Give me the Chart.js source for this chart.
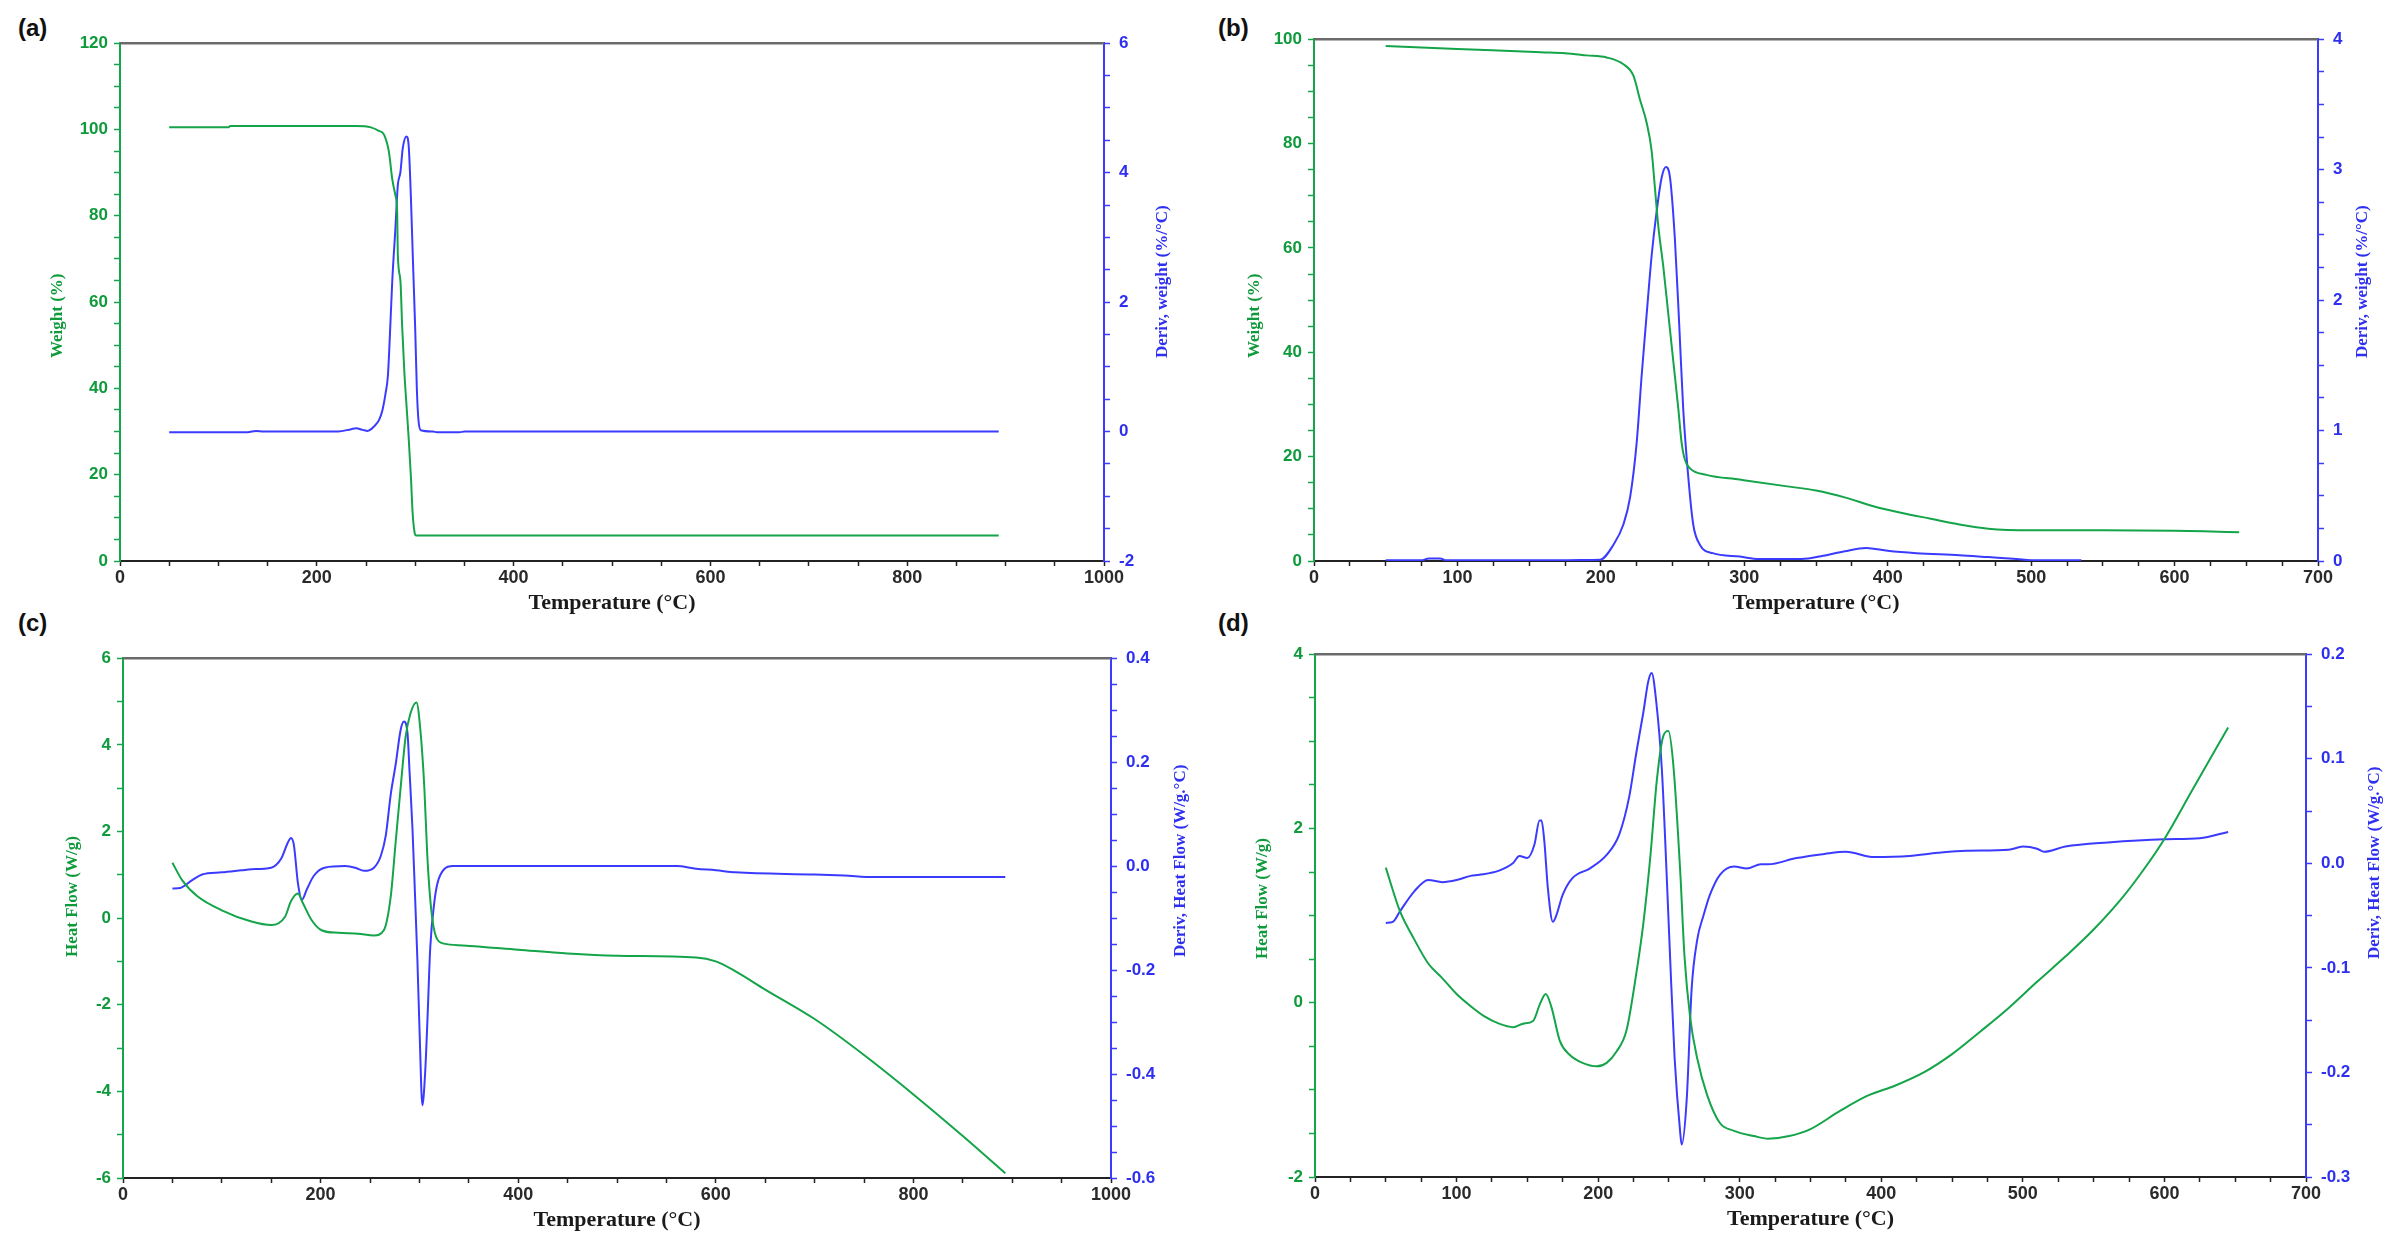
<!DOCTYPE html>
<html>
<head>
<meta charset="utf-8">
<script src="https://cdn.jsdelivr.net/npm/chart.js@4.4.0/dist/chart.umd.min.js"></script>
<style>
  body { margin: 0; background: #fff; width: 2403px; height: 1248px; position: relative; overflow: hidden; }
  canvas { position: absolute; }
  .tag { position: absolute; font: bold 24px "Liberation Sans", Arial, sans-serif; color: #111; }
</style>
</head>
<body>
<div class="tag" style="left:18px;top:14px">(a)</div>
<div class="tag" style="left:1218px;top:14px">(b)</div>
<div class="tag" style="left:18px;top:609px">(c)</div>
<div class="tag" style="left:1218px;top:609px">(d)</div>
<canvas id="chartA"></canvas>
<canvas id="chartB"></canvas>
<canvas id="chartC"></canvas>
<canvas id="chartD"></canvas>
<script>
// (a) TGA : weight and derivative
const tempA_w = [50, 110, 112, 240, 255, 263, 268.3, 273.3, 276.7, 280, 281.7, 282.3, 285, 286.7, 289, 291, 293.3, 295.7, 297.3, 299.3, 301, 893];
const weightA = [100.5, 100.5, 100.8, 100.8, 100.5, 99.7, 98.8, 94.8, 88.5, 84.6, 80.7, 71.2, 64.9, 54.7, 43.7, 36.6, 28.7, 19.3, 11.4, 6.7, 5.9, 5.9];
const tempA_d = [50, 130, 138, 146, 221.7, 235, 240, 246.7, 251.7, 258.3, 263.3, 266.7, 270, 272.3, 274.3, 276.7, 280, 282.3, 285, 287.3, 291, 293.3, 295.7, 297.7, 300, 301.7, 303.3, 305.7, 318, 322, 345, 350, 893];
const derivA = [-0.01, -0.01, 0.01, 0, 0, 0.037, 0.05, 0.026, 0.01, 0.08, 0.18, 0.33, 0.6, 0.87, 1.49, 2.33, 3.17, 3.8, 4.01, 4.37, 4.56, 4.43, 3.59, 2.64, 1.59, 0.65, 0.18, 0.02, 0, -0.01, -0.01, 0, 0];

// (b) TGA
const tempB_w = [50, 100, 150, 158, 175, 190, 204, 215.7, 222.7, 227.3, 232, 235.4, 237.7, 240, 243.5, 247, 250.5, 254, 256.3, 258.6, 262, 273.6, 296.8, 330, 350, 370, 390, 410, 430, 450, 470, 500, 550, 600, 620, 645];
const weightB = [98.7, 98.1, 97.6, 97.5, 97.3, 96.9, 96.5, 95.2, 93.0, 88.4, 83.9, 78.6, 71.5, 64.3, 56.5, 47.4, 38.3, 29.2, 22.7, 19.4, 17.8, 16.5, 15.6, 14.3, 13.5, 12.2, 10.5, 9.2, 8.1, 7.0, 6.2, 5.9, 5.9, 5.8, 5.7, 5.5];
const tempB_d = [50, 75, 80, 88, 92, 170, 185, 199.5, 208.8, 215.7, 220.4, 225, 228.5, 232, 235.4, 238.9, 242.4, 245.4, 248.2, 251.6, 254.6, 257.4, 260.9, 264.4, 269, 278, 297, 310, 340, 355, 370, 385, 400, 420, 450, 470, 490, 500, 535];
const derivB = [0.005, 0.005, 0.02, 0.02, 0.005, 0.005, 0.008, 0.01, 0.125, 0.28, 0.49, 0.91, 1.43, 1.90, 2.34, 2.68, 2.94, 3.02, 2.94, 2.47, 1.82, 1.17, 0.65, 0.28, 0.125, 0.06, 0.034, 0.015, 0.015, 0.04, 0.075, 0.1, 0.078, 0.06, 0.045, 0.03, 0.015, 0.006, 0.006];

// (c) DSC : heat flow and derivative
const tempC_h = [50, 60, 75, 100, 130, 150, 164, 170, 177, 182, 191, 201, 218, 238, 254, 264, 271, 276, 281, 286, 291, 297, 301, 305, 308, 312, 317, 325, 344, 400, 450, 500, 580, 600, 620, 650, 700, 750, 800, 850, 893];
const heatC = [1.28, 0.87, 0.51, 0.18, -0.08, -0.16, 0.03, 0.39, 0.57, 0.35, -0.05, -0.28, -0.34, -0.36, -0.40, -0.28, 0.50, 1.76, 3.01, 4.18, 4.73, 4.98, 4.34, 3.01, 1.44, 0.19, -0.44, -0.59, -0.63, -0.73, -0.82, -0.87, -0.91, -1.0, -1.23, -1.65, -2.33, -3.16, -4.07, -5.03, -5.89];
const tempC_d = [50, 58, 70, 80, 100, 120, 130, 150, 160, 167, 170, 173, 177, 181, 186, 193, 204, 225, 235, 244, 254, 261, 266, 271, 276, 281, 284.4, 288, 290, 293, 295.6, 298, 300.3, 303, 305.8, 308.2, 311, 315, 318.4, 325, 334, 560, 580, 600, 620, 700, 730, 760, 893];
const derivC = [-0.043, -0.042, -0.027, -0.016, -0.012, -0.008, -0.006, -0.003, 0.014, 0.046, 0.054, 0.04, -0.032, -0.065, -0.045, -0.019, -0.003, 0.0, -0.003, -0.009, -0.003, 0.02, 0.059, 0.138, 0.196, 0.262, 0.278, 0.255, 0.183, 0.072, -0.058, -0.182, -0.326, -0.46, -0.398, -0.293, -0.156, -0.071, -0.032, -0.006, 0.0, 0.0, -0.005, -0.008, -0.012, -0.016, -0.018, -0.021, -0.021];

// (d) DSC
const tempD_h = [50, 60, 70, 80, 90, 100, 110, 120, 130, 140, 147, 154, 159, 163, 167, 173, 180, 189, 199, 206, 213, 220, 227, 232, 237, 241.5, 246, 249.6, 253, 258, 261, 265, 270, 277, 286, 296, 310, 320, 335, 350, 370, 390, 410, 430, 450, 470, 490, 510, 530, 550, 570, 585, 600, 620, 645];
const heatD = [1.55, 1.05, 0.73, 0.45, 0.28, 0.1, -0.04, -0.16, -0.24, -0.28, -0.24, -0.21, -0.01, 0.1, -0.05, -0.44, -0.6, -0.69, -0.73, -0.69, -0.56, -0.32, 0.34, 0.92, 1.7, 2.56, 3.06, 3.12, 2.75, 1.5, 0.53, -0.17, -0.64, -1.06, -1.38, -1.47, -1.53, -1.56, -1.53, -1.45, -1.25, -1.07, -0.95, -0.8, -0.59, -0.33, -0.06, 0.24, 0.53, 0.84, 1.2, 1.52, 1.88, 2.45, 3.16];
const tempD_d = [50, 55, 60, 70, 80, 90, 100, 110, 116, 130, 139.7, 144.4, 150, 155, 158.6, 160, 162, 164.5, 168, 170.4, 175, 182, 194, 206, 215, 222, 227, 232, 235.4, 237.8, 241, 245, 248, 250.8, 254, 258, 259, 262.6, 266, 270, 274.4, 279, 286, 296, 305, 315, 320, 340, 360, 375, 395, 420, 440, 460, 490, 500, 510, 515, 530, 560, 600, 625, 645];
const derivD = [-0.057, -0.056, -0.046, -0.027, -0.016, -0.018, -0.016, -0.012, -0.011, -0.007, 0.0, 0.007, 0.005, 0.018, 0.041, 0.041, 0.021, -0.024, -0.056, -0.05, -0.03, -0.014, -0.005, 0.008, 0.028, 0.064, 0.106, 0.145, 0.174, 0.182, 0.155, 0.09, 0.002, -0.089, -0.186, -0.258, -0.269, -0.225, -0.121, -0.073, -0.05, -0.03, -0.011, -0.003, -0.005, -0.001, -0.001, 0.005, 0.009, 0.011, 0.006, 0.007, 0.01, 0.012, 0.013, 0.016, 0.014, 0.011, 0.016, 0.02, 0.023, 0.024, 0.03];

const VERT = "#14a449";
const BLEU = "#3b3bff";
const TEXTE_VERT = "#0f9a3c";
const TEXTE_BLEU = "#2f2ff0";
const PAD_TOP = 14;
const X_AXIS_H = 62;

function pts(xs, ys) {
  return xs.map((x, i) => ({ x: x, y: ys[i] }));
}

function chaque(n, fmt) {
  return v => {
    if (Math.abs(v) < 1e-9) v = 0;
    return Math.abs(v / n - Math.round(v / n)) < 1e-6 ? fmt(v) : "";
  };
}

// top frame line + y titles written bottom-to-top
const cadre = {
  id: "cadre",
  afterDraw(chart, args, opts) {
    const { ctx, chartArea: a } = chart;
    ctx.save();
    ctx.strokeStyle = "#6a6a6a";
    ctx.lineWidth = 2.5;
    ctx.beginPath();
    ctx.moveTo(a.left, a.top);
    ctx.lineTo(a.right, a.top);
    ctx.stroke();
    ctx.font = 'bold 17px "Liberation Serif", "Times New Roman", serif';
    ctx.textBaseline = "middle";
    ctx.textAlign = "left";
    [[opts.gauche, a.left - opts.dL, TEXTE_VERT], [opts.droite, a.right + opts.dR, TEXTE_BLEU]].forEach(([txt, x, col]) => {
      ctx.save();
      ctx.translate(x, a.bottom - opts.rise);
      ctx.rotate(-Math.PI / 2);
      ctx.fillStyle = col;
      ctx.fillText(txt, 0, 0);
      ctx.restore();
    });
    ctx.restore();
  }
};

function axeY(pos, cfg, largeur, couleur, texte) {
  return {
    type: "linear",
    position: pos,
    min: cfg.min,
    max: cfg.max,
    ticks: {
      stepSize: cfg.step,
      autoSkip: false,
      padding: pos === "left" ? 6 : 9,
      color: texte,
      font: { family: "Liberation Sans", size: 17, weight: "bold" },
      callback: chaque(cfg.every, cfg.fmt || (v => String(v)))
    },
    grid: { drawOnChartArea: false, tickLength: 6, tickColor: couleur, tickWidth: 1.5 },
    border: { color: couleur, width: 2 },
    afterFit: s => { s.width = largeur; }
  };
}

function creerPanneau(id, box, cfg) {
  const canvas = document.getElementById(id);
  const leftW = box.dL + 16;
  const rightW = box.dR + 16;
  canvas.width = leftW + box.R - box.L + rightW;
  canvas.height = PAD_TOP + box.B - box.T + X_AXIS_H;
  canvas.style.left = (box.L - leftW) + "px";
  canvas.style.top = (box.T - PAD_TOP) + "px";

  new Chart(canvas, {
    type: "line",
    data: {
      datasets: [
        { label: cfg.titreG, data: pts(cfg.x1, cfg.y1), yAxisID: "y", borderColor: VERT },
        { label: cfg.titreD, data: pts(cfg.x2, cfg.y2), yAxisID: "y2", borderColor: BLEU }
      ]
    },
    options: {
      responsive: false,
      animation: false,
      layout: { padding: { top: PAD_TOP, left: 0, right: 0, bottom: 0 } },
      elements: {
        point: { radius: 0 },
        line: { borderWidth: 2, cubicInterpolationMode: "monotone", fill: false }
      },
      plugins: {
        legend: { display: false },
        tooltip: { enabled: false },
        cadre: { gauche: cfg.titreG, droite: cfg.titreD, dL: box.dL, dR: box.dR, rise: box.rise }
      },
      scales: {
        x: {
          type: "linear",
          min: cfg.xAxe.min,
          max: cfg.xAxe.max,
          ticks: {
            stepSize: cfg.xAxe.step,
            autoSkip: false,
            maxRotation: 0,
            padding: 1,
            color: "#2a2a2a",
            font: { family: "Liberation Sans", size: 18, weight: "bold" },
            callback: chaque(cfg.xAxe.every, v => String(v))
          },
          grid: { drawOnChartArea: false, tickLength: 5, tickColor: "#222", tickWidth: 1.5 },
          border: { color: "#222", width: 2 },
          title: {
            display: true,
            text: "Temperature (°C)",
            color: "#1a1a1a",
            font: { family: "Liberation Serif", weight: "bold", size: 22 },
            padding: { top: 0, bottom: 6 }
          },
          afterFit: s => { s.height = X_AXIS_H; }
        },
        y: axeY("left", cfg.yG, leftW, VERT, TEXTE_VERT),
        y2: axeY("right", cfg.yD, rightW, BLEU, TEXTE_BLEU)
      }
    },
    plugins: [cadre]
  });
}

const un = v => v.toFixed(1);

creerPanneau("chartA", { L: 120, R: 1104, T: 38, B: 561, dL: 62, dR: 59, rise: 203 }, {
  x1: tempA_w, y1: weightA, x2: tempA_d, y2: derivA,
  titreG: "Weight (%)", titreD: "Deriv, weight (%/°C)",
  xAxe: { min: 0, max: 1000, step: 50, every: 200 },
  yG: { min: 0, max: 120, step: 5, every: 20 },
  yD: { min: -2, max: 6, step: 0.5, every: 2 }
});

creerPanneau("chartB", { L: 1314, R: 2318, T: 34, B: 561, dL: 59, dR: 45, rise: 203 }, {
  x1: tempB_w, y1: weightB, x2: tempB_d, y2: derivB,
  titreG: "Weight (%)", titreD: "Deriv, weight (%/°C)",
  xAxe: { min: 0, max: 700, step: 25, every: 100 },
  yG: { min: 0, max: 100, step: 5, every: 20 },
  yD: { min: 0, max: 4, step: 0.25, every: 1 }
});

creerPanneau("chartC", { L: 123, R: 1111, T: 653, B: 1178, dL: 50, dR: 70, rise: 221 }, {
  x1: tempC_h, y1: heatC, x2: tempC_d, y2: derivC,
  titreG: "Heat Flow (W/g)", titreD: "Deriv, Heat Flow (W/g.°C)",
  xAxe: { min: 0, max: 1000, step: 50, every: 200 },
  yG: { min: -6, max: 6, step: 1, every: 2 },
  yD: { min: -0.6, max: 0.4, step: 0.05, every: 0.2, fmt: un }
});

creerPanneau("chartD", { L: 1315, R: 2306, T: 649, B: 1177, dL: 52, dR: 69, rise: 218 }, {
  x1: tempD_h, y1: heatD, x2: tempD_d, y2: derivD,
  titreG: "Heat Flow (W/g)", titreD: "Deriv, Heat Flow (W/g.°C)",
  xAxe: { min: 0, max: 700, step: 25, every: 100 },
  yG: { min: -2, max: 4, step: 0.5, every: 2 },
  yD: { min: -0.3, max: 0.2, step: 0.05, every: 0.1, fmt: un }
});
</script>
</body>
</html>
